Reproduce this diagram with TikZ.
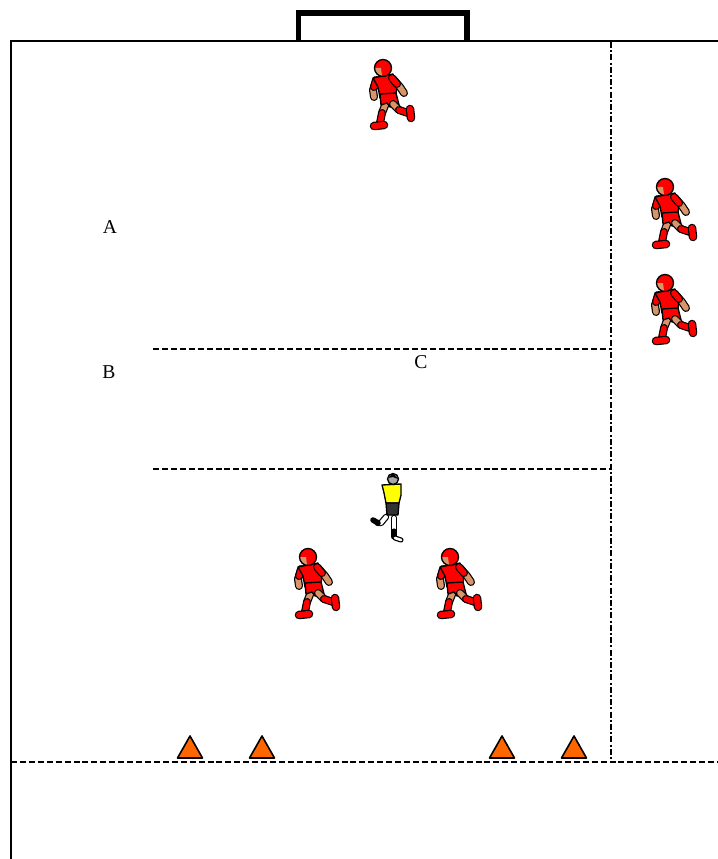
\documentclass[tikz,border=0pt]{standalone}
\usepackage{fontspec}
\setmainfont{Liberation Serif}
\begin{document}
\definecolor{shirtred}{HTML}{FF0000}
\definecolor{skin}{HTML}{D9956A}
\definecolor{coneorange}{HTML}{FF6600}
\definecolor{shirtyellow}{HTML}{FFFF00}
\begin{tikzpicture}[x=0.75pt,y=-0.75pt,
  fieldline/.style={draw=black,line width=2pt},
  zoneline/.style={draw=black,line width=1.9pt,dash pattern=on 4.5pt off 2.2pt},
  dashdotline/.style={draw=black,line width=1.9pt,dash pattern=on 4.5pt off 1.6pt on 1.6pt off 1.6pt},
  goalframe/.style={draw=black,line width=3.8pt},
  cone/.style={fill=coneorange,draw=black,line width=1.2pt,line join=round},
  label/.style={font=\fontsize{14.7}{17}\selectfont,inner sep=0pt},
  limb/.style={draw=black,line width=0.9pt,double distance=4.2pt,line cap=round,line join=round},
  body/.style={draw=black,line width=1pt,line join=round},
  runner/.pic={
    % back arm and back leg
    \draw[limb,double=skin] (-15,-14) -- (-18,-5) -- (-17,2);
    \draw[limb,double=shirtred] (-15,-15) -- (-17,-8);
    \draw[limb,double=skin] (-5,8) -- (-9,18);
    \draw[limb,double=shirtred] (-9,18) -- (-11,28);
    \draw[limb,double=shirtred,double distance=4.6pt] (-17,31) -- (-7,30);
    % shirt and shorts
    \filldraw[body,fill=shirtred] (-18,-17) -- (2,-21) -- (6,-10) -- (5,0) -- (-11,3) -- (-13,-8) -- cycle;
    \filldraw[body,fill=shirtred] (-11,-1) -- (5,-2) -- (8,10) -- (-1,12) -- (-4,8) -- (-10,10) -- cycle;
    % front leg and front arm
    \draw[limb,double=skin] (2,9) -- (8,15);
    \draw[limb,double=shirtred] (8,15) -- (17,18);
    \draw[limb,double=shirtred,double distance=4.6pt] (19,14) -- (20,23);
    \draw[limb,double=skin] (2,-16) -- (9,-8) -- (13,-2);
    \draw[limb,double=shirtred] (1,-17) -- (6,-11);
    % head with helmet
    \fill[shirtred] (-8,-27) circle (8.5);
    \fill[skin] (-16.5,-27) -- (-10,-27) -- (-9,-19) -- (-14,-20) -- cycle;
    \draw[body] (-8,-27) circle (8.5);
  },
  keeper/.pic={
    % legs and boots
    \draw[limb,double=white,double distance=3pt] (4,11) -- (4,26);
    \draw[limb,double=white,double distance=3pt] (-4,10) -- (-9,16) -- (-12,16);
    \draw[black,line width=3.8pt,line cap=round] (4,24) -- (4,30);
    \draw[limb,double=white,double distance=2pt] (5,31) -- (11,33);
    \draw[black,line width=4.2pt,line cap=round] (-17,13) -- (-12,16);
    % shirt and shorts
    \filldraw[body,fill=shirtyellow] (-8,-22) -- (11,-23) -- (11,-12) -- (9,-4) -- (-4,-4) -- (-6,-14) -- cycle;
    \filldraw[body,fill=black!80] (-4,-4) -- (9,-4) -- (8,8) -- (-3,8) -- cycle;
    % head
    \filldraw[body,fill=gray!70] (3,-28) circle (5.5);
    \fill[black] (-2,-29) -- (3,-34) -- (8,-28) -- (3,-30) -- cycle;
  }]
\useasboundingbox (0,0) rectangle (717,859);

% goal
\draw[goalframe] (298.5,41) -- (298.5,13) -- (467,13) -- (467,41);
% pitch boundary
\coordinate (tl) at (11,41);
\coordinate (tr) at (717,41);
\coordinate (bl) at (11,859);
\draw[fieldline,line cap=rect] (bl) -- (tl) -- (tr);
% end line of the area
\coordinate (el) at (11,762);
\coordinate (er) at (717,762);
\draw[zoneline] (el) -- (er);
% side channel line
\coordinate (vt) at (611,42);
\coordinate (vb) at (611,762);
\draw[dashdotline] (vt) -- (vb);
% zone lines
\coordinate (z1l) at (153,349);
\coordinate (z1r) at (611,349);
\coordinate (z2l) at (153,469);
\coordinate (z2r) at (611,469);
\draw[zoneline] (z1l) -- (z1r);
\draw[zoneline] (z2l) -- (z2r);

% zone labels
\node[label] (labA) at (110,227) {A};
\node[label] (labB) at (109,372) {B};
\node[label] (labC) at (421,362) {C};

% players
\pic (p1) at (391,95) {runner};
\pic (p2) at (673,214) {runner};
\pic (p3) at (673,310) {runner};
\pic (p4) at (316,584) {runner};
\pic (p5) at (458,584) {runner};
\pic (gk) at (390,507) {keeper};

% cones
\foreach \cx [count=\i] in {190,262,502,574}
  \filldraw[cone] (\cx-12.5,758) -- (\cx,736) -- (\cx+12.5,758) -- cycle;
\end{tikzpicture}
\end{document}
